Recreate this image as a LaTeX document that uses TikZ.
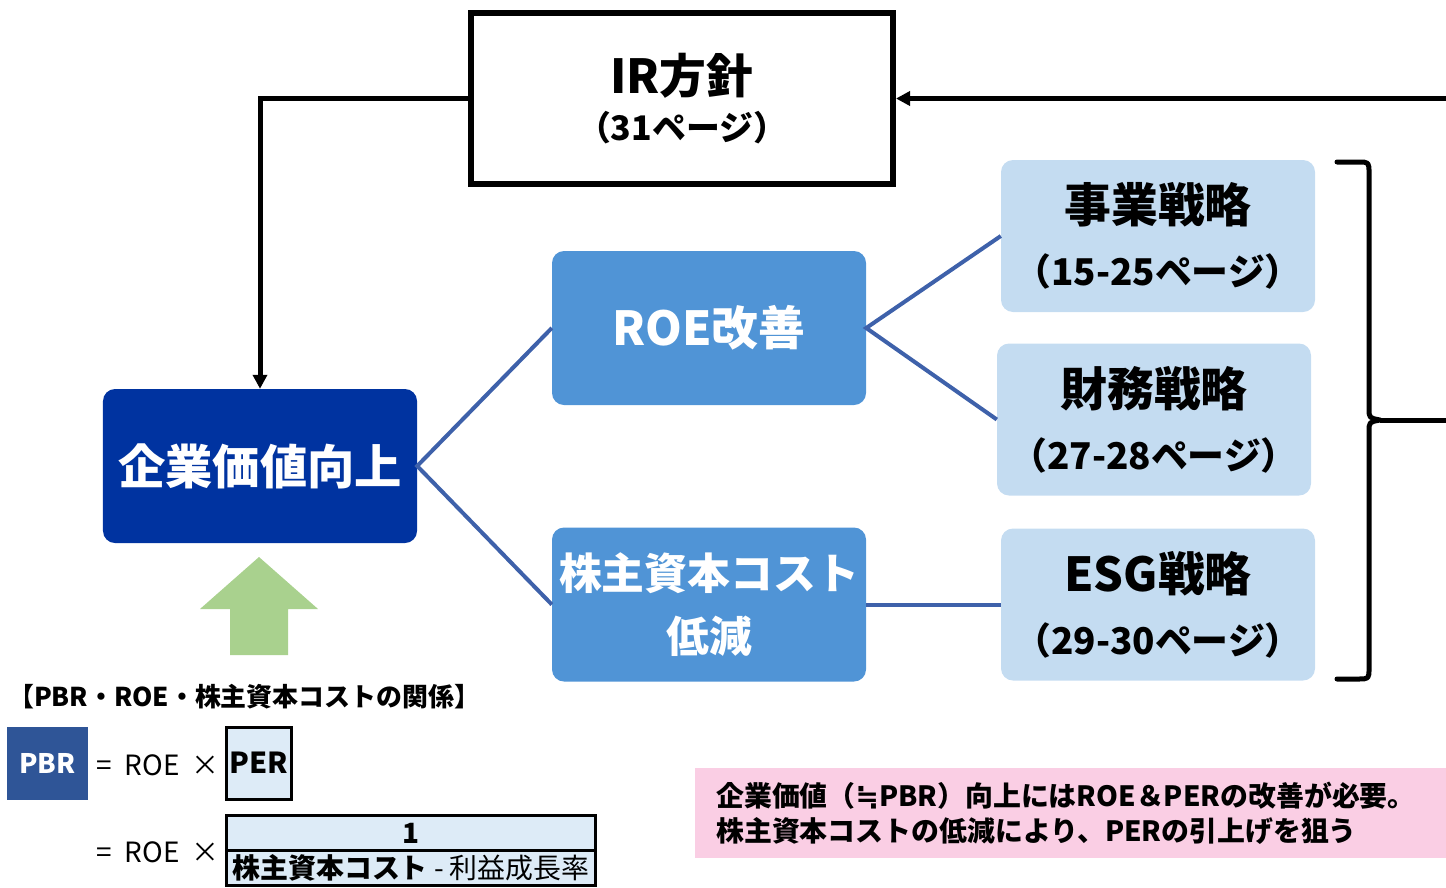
\documentclass[tikz,border=0pt]{standalone}
\usepackage{fontspec}
\setmainfont{Noto Sans CJK JP}
\newfontfamily\symfont{DejaVu Sans}
\usepackage{tikz}
\usetikzlibrary{calc,positioning,arrows.meta}
\definecolor{goalblue}{RGB}{0,51,160}
\definecolor{leverblue}{RGB}{80,148,214}
\definecolor{planblue}{RGB}{196,220,241}
\definecolor{linkblue}{RGB}{62,97,170}
\definecolor{pbrblue}{RGB}{47,85,151}
\definecolor{cellblue}{RGB}{221,235,247}
\definecolor{notepink}{RGB}{250,206,228}
\definecolor{upgreen}{RGB}{169,209,142}
\tikzset{
    >={Triangle[length=14bp,width=14bp]},
    box/.style={
        rectangle,
        rounded corners=12bp,
        minimum width=314bp,
        minimum height=154bp,
        inner sep=0pt,
        align=center
    },
    goalbox/.style={box, fill=goalblue, text=white,
        font={\fontsize{47.5}{55}\selectfont\bfseries}},
    leverbox/.style={box, fill=leverblue, text=white,
        font={\fontsize{43}{63}\selectfont\bfseries}},
    planbox/.style={box, fill=planblue, text=black,
        font={\fontsize{47}{63}\selectfont\bfseries}},
    irbox/.style={
        rectangle,
        draw, line width=6bp,
        minimum width=422bp,
        minimum height=171bp,
        align=center,
        font={\fontsize{47}{47}\selectfont\bfseries}
    },
    link/.style={draw=linkblue, line width=4bp},
    feedback/.style={draw, line width=5bp, ->},
    bracket/.style={draw, line width=5bp, line cap=round, line join=round},
    cell/.style={rectangle, draw, line width=3bp, fill=cellblue, inner sep=0pt, outer sep=0pt,
        font={\fontsize{28}{30}\selectfont}},
    formula/.style={anchor=west, inner sep=0pt, font={\fontsize{28}{30}\selectfont}},
}
\newcommand{\pagetag}{\fontsize{37}{63}\selectfont}
\newcommand{\irpage}{\fontsize{34}{47}\selectfont}

\begin{document}
\begin{tikzpicture}[x=1bp, y=-1bp]
\useasboundingbox (0,0) rectangle (1446,887);

\node (ir) at (682,98.5) [irbox] {IR方針\\{\irpage （31ページ）}};
\node (goal) at (260,466) [goalbox] {企業価値向上};
\node (roe) at (709,328) [leverbox, font={\fontsize{47}{63}\selectfont\bfseries}] {ROE改善};
\node (coe) at (709,604.5) [leverbox] {株主資本コスト\\低減};
\node (biz) at (1158,236) [planbox, minimum height=152bp] {事業戦略\\{\pagetag （15-25ページ）}};
\node (fin) at (1154,419.5) [planbox, minimum height=152bp] {財務戦略\\{\pagetag （27-28ページ）}};
\node (esg) at (1158,604.5) [planbox, minimum height=152bp] {ESG戦略\\{\pagetag （29-30ページ）}};

\draw[link] (roe.west) -- (goal.east) -- (coe.west);
\draw[link] (biz.west) -- (roe.east) -- (fin.west);
\draw[link] (coe.east) -- (esg.west);

\draw[bracket] (1337,162) -- (1358,162) .. controls (1369,162) .. (1369,173)
    -- (1369,408) .. controls (1369,418) .. (1380,420) coordinate (tip)
    .. controls (1369,422) .. (1369,432) -- (1369,668)
    .. controls (1369,679) .. (1358,679) -- (1337,679);
\draw[feedback] (tip) -- (1500,420) |- (ir.east);
\draw[feedback] (ir.west) -| (goal.north);

\fill[upgreen] (259,557) -- (318,609) -- (288,609) -- (288,655)
    -- (230,655) -- (230,609) -- (200,609) -- cycle;

\node (title) at (8,697) [anchor=west, inner sep=0pt, font={\fontsize{26}{30}\selectfont\bfseries}]
    {【PBR・ROE・株主資本コストの関係】};
\node (pbr) at (47.5,763.5) [rectangle, fill=pbrblue, text=white, minimum width=81bp,
    minimum height=73bp, font={\fontsize{27}{30}\selectfont\bfseries}] {PBR};
\node (eq1) at (96,765) [formula] {=\hspace{13bp}ROE\hspace{12bp}×};
\node (per) at (259,763) [cell, minimum width=65bp, minimum height=72bp,
    font={\fontsize{29}{30}\selectfont\bfseries}] {PER};
\node (eq2) at (96,852) [formula] {=\hspace{13bp}ROE\hspace{12bp}×};
\node (num) at (411,833) [cell, minimum width=369bp, minimum height=35bp] {\bfseries 1};
\node (den) [cell, below=0pt of num, minimum width=369bp, minimum height=35bp]
    {\textbf{株主資本コスト} - 利益成長率};

\node (note) at (695,813) [anchor=west, rectangle, fill=notepink, inner xsep=21bp,
    text width=740bp, minimum height=90bp, align=left,
    font={\fontsize{28}{35}\selectfont\bfseries}]
    {企業価値（{\symfont ≒}PBR）向上にはROE＆PERの改善が必要。\\株主資本コストの低減により、PERの引上げを狙う};
\end{tikzpicture}
\end{document}
